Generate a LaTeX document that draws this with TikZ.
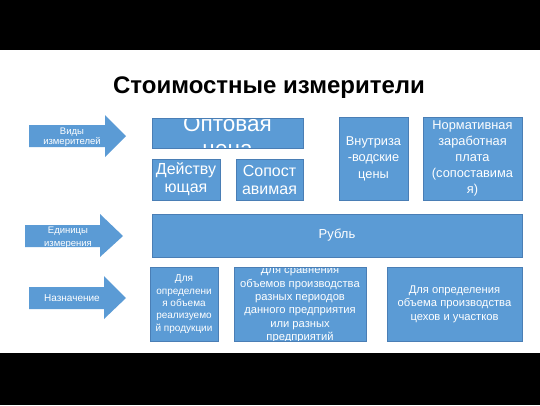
\documentclass[tikz,border=0pt]{standalone}
\usepackage{fontspec}
\setmainfont{Liberation Sans}
\definecolor{boxblue}{HTML}{5B9BD5}
\definecolor{boxedge}{HTML}{4A7EB5}
\newcommand{\fs}[2]{\fontsize{#1}{#2}\selectfont}
\tikzset{
  blk/.style={rectangle, fill=boxblue, draw=boxedge, line width=0.6pt, inner sep=0pt, text=white, align=center},
  arrowshape/.style={fill=boxblue},
  arrowtext/.style={text=white, align=center, inner sep=0pt},
  cliptext/.style={text=white, align=center, inner sep=0pt},
}
\begin{document}
\begin{tikzpicture}[x=1pt,y=-1pt]
\useasboundingbox (0,0) rectangle (540,405);
\fill[white] (0,0) rectangle (540,405);
\fill[black] (0,0) rectangle (540,50);
\fill[black] (0,353) rectangle (540,405);

\node[anchor=base, inner sep=0pt, font=\fs{24}{28}\bfseries] (title) at (269,93) {Стоимостные измерители};

% block arrows
\fill[arrowshape] (29,125) -- (105,125) -- (105,115) -- (126,136) -- (105,157) -- (105,147) -- (29,147) -- cycle;
\node[arrowtext, font=\fs{9.5}{10.5}] (a1) at (72,137) {Виды\\измерителей};
\fill[arrowshape] (25,225) -- (100,225) -- (100,214) -- (123,236) -- (100,257) -- (100,247) -- (25,247) -- cycle;
\node[arrowtext, font=\fs{9.5}{12.5}] (a2) at (68,237.5) {Единицы\\измерения};
\fill[arrowshape] (29,287) -- (104,287) -- (104,276) -- (126,298) -- (104,319) -- (104,309) -- (29,309) -- cycle;
\node[arrowtext, font=\fs{10}{12}] (a3) at (72,298) {Назначение};

% top row
\node[blk, minimum width=151pt, minimum height=30pt,
  path picture={\node[cliptext, font=\fs{22.5}{25}] at ([yshift=-5pt]path picture bounding box.center) {Оптовая\\цена};}]
  (opt) at (227.5,133) {};
\node[blk, minimum width=68pt, minimum height=41pt, font=\fs{16}{18}] (deist) at (186,179.5) {Действу\\ющая};
\node[blk, minimum width=67pt, minimum height=41pt, font=\fs{16}{18}] (sopost) at (269.5,179.5) {Сопост\\авимая};
\node[blk, minimum width=69pt, minimum height=83pt, font=\fs{12.8}{16.5}] (vnutr) at (373.5,158.5) {Внутриза\\-водские\\цены};
\node[blk, minimum width=99pt, minimum height=83pt, font=\fs{12.8}{16}] (norm) at (472.5,158.5) {Нормативная\\заработная\\плата\\(сопоставима\\я)};

% middle
\node[blk, minimum width=370pt, minimum height=43pt, font=\fs{13}{16}] (rubl) at (337,235.5) {Рубль};

% bottom row
\node[blk, minimum width=68pt, minimum height=74pt, font=\fs{10}{12.3}] (b1) at (184,304) {Для\\определени\\я объема\\реализуемо\\й продукции};
\node[blk, minimum width=132pt, minimum height=74pt,
  path picture={\node[cliptext, font=\fs{11.2}{13.4}] at ([yshift=-0.5pt]path picture bounding box.center) {Для сравнения\\объемов производства\\разных периодов\\данного предприятия\\или разных\\предприятий};}]
  (b2) at (300,304) {};
\node[blk, minimum width=135pt, minimum height=74pt, font=\fs{11.2}{13.5}] (b3) at (454.5,304) {Для определения\\объема производства\\цехов и участков};
\end{tikzpicture}
\end{document}
